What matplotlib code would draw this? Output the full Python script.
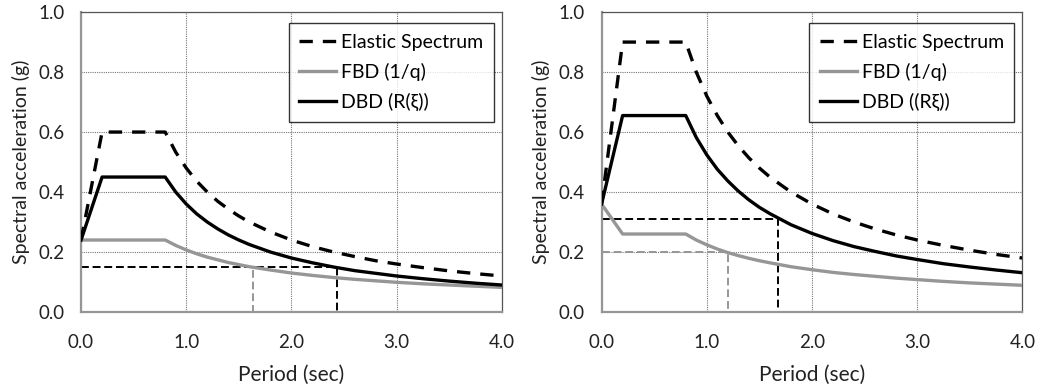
import matplotlib
matplotlib.use("Agg")
import matplotlib.pyplot as plt

plt.rcParams['font.family'] = ['Lato', 'DejaVu Sans']

# periods (sec)
period = [0.0, 0.2, 0.8, 0.9, 1.0, 1.1, 1.2, 1.3, 1.4, 1.5, 1.6, 1.8, 2.0,
          2.2, 2.4, 2.6, 2.8, 3.0, 3.25, 3.5, 3.75, 4.0]

# left panel
elastic_a = [0.24, 0.60, 0.60, 0.533, 0.48, 0.436, 0.40, 0.369, 0.343, 0.32, 0.30,
             0.267, 0.24, 0.218, 0.20, 0.185, 0.171, 0.16, 0.148, 0.137, 0.128, 0.12]
fbd_a = [0.24, 0.24, 0.24, 0.222, 0.207, 0.194, 0.183, 0.174, 0.165, 0.158, 0.151,
         0.140, 0.130, 0.122, 0.115, 0.109, 0.104, 0.099, 0.094, 0.090, 0.086, 0.082]
dbd_a = [0.24, 0.45, 0.45, 0.40, 0.36, 0.327, 0.30, 0.277, 0.257, 0.24, 0.225,
         0.20, 0.18, 0.164, 0.15, 0.138, 0.129, 0.12, 0.111, 0.103, 0.096, 0.09]
ref_a = {'sa_dbd': 0.15, 't_dbd': 2.43, 'sa_fbd': 0.15, 't_fbd': 1.63}

# right panel
elastic_b = [0.36, 0.90, 0.90, 0.80, 0.72, 0.655, 0.60, 0.554, 0.514, 0.48, 0.45,
             0.40, 0.36, 0.327, 0.30, 0.277, 0.257, 0.24, 0.222, 0.206, 0.192, 0.18]
fbd_b = [0.36, 0.26, 0.26, 0.240, 0.224, 0.210, 0.198, 0.188, 0.179, 0.171, 0.164,
         0.151, 0.141, 0.132, 0.125, 0.119, 0.113, 0.108, 0.102, 0.097, 0.093, 0.089]
dbd_b = [0.36, 0.655, 0.655, 0.582, 0.524, 0.476, 0.437, 0.403, 0.374, 0.349, 0.328,
         0.291, 0.262, 0.238, 0.218, 0.202, 0.187, 0.175, 0.161, 0.150, 0.140, 0.131]
ref_b = {'sa_dbd': 0.31, 't_dbd': 1.68, 'sa_fbd': 0.20, 't_fbd': 1.20}

panels = [
    (elastic_a, fbd_a, dbd_a, ref_a, 'DBD (R(ξ))'),
    (elastic_b, fbd_b, dbd_b, ref_b, 'DBD ((Rξ))'),
]

gray = '#969696'
fig = plt.figure(figsize=(10.39, 3.90), dpi=100)
lefts = [0.078, 0.579]

for left, (el, fbd, dbd, ref, dbd_label) in zip(lefts, panels):
    ax = fig.add_axes([left, 0.2, 0.405, 0.769])
    ax.set_xlim(0, 4)
    ax.set_ylim(0, 1)

    # dashed guide lines
    ax.plot([0, ref['t_fbd'], ref['t_fbd']], [ref['sa_fbd'], ref['sa_fbd'], 0],
            color=gray, lw=1.4, dashes=(4, 2), zorder=2)
    ax.plot([0, ref['t_dbd'], ref['t_dbd']], [ref['sa_dbd'], ref['sa_dbd'], 0],
            color='black', lw=1.4, dashes=(4, 2), zorder=2)

    ax.plot(period, el, color='black', lw=2.4, dashes=(4, 3),
            label='Elastic Spectrum', zorder=3)
    ax.plot(period, fbd, color=gray, lw=2.4, label='FBD (1/q)', zorder=3)
    ax.plot(period, dbd, color='black', lw=2.4, label=dbd_label, zorder=4)

    ax.set_xticks([0, 1, 2, 3, 4])
    ax.set_xticklabels(['0.0', '1.0', '2.0', '3.0', '4.0'])
    ax.set_yticks([0, 0.2, 0.4, 0.6, 0.8, 1.0])
    ax.set_yticklabels(['0.0', '0.2', '0.4', '0.6', '0.8', '1.0'])
    ax.tick_params(length=0, labelsize=13.5, colors='#222222')
    ax.tick_params(axis='x', pad=16)
    ax.tick_params(axis='y', pad=12)
    ax.grid(True, color='#777777', lw=0.8, linestyle=(0, (1, 1)))
    ax.set_axisbelow(True)
    for s in ax.spines.values():
        s.set_color('#555555')
        s.set_linewidth(0.9)
    ax.spines['left'].set_color(gray)
    ax.spines['bottom'].set_color(gray)
    ax.spines['left'].set_linewidth(1.6)
    ax.spines['bottom'].set_linewidth(1.6)

    ax.set_xlabel('Period (sec)', fontsize=15, labelpad=10, color='#222222')
    ax.set_ylabel('Spectral acceleration (g)', fontsize=14, labelpad=6,
                  color='#222222')

    leg = ax.legend(loc='upper right', fontsize=14, handlelength=1.9,
                    handletextpad=0.25, frameon=True, fancybox=False,
                    borderpad=0.55, labelspacing=0.6, borderaxespad=0,
                    bbox_to_anchor=(0.981, 0.962))
    leg.get_frame().set_edgecolor('black')
    leg.get_frame().set_linewidth(1.0)

fig.savefig('out.png', dpi=100)
